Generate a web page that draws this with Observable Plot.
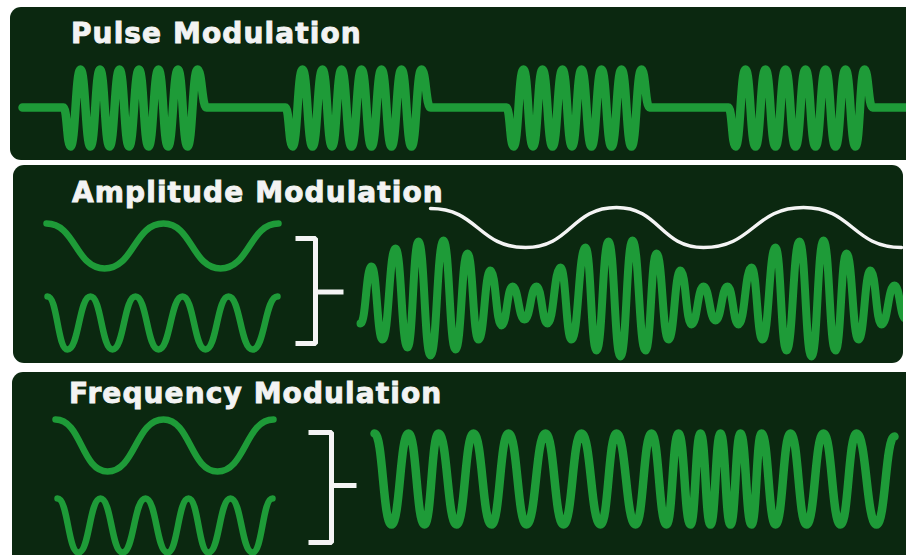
<!DOCTYPE html>
<html><head><meta charset="utf-8">
<script src="https://cdn.jsdelivr.net/npm/d3@7"></script>
<script src="https://cdn.jsdelivr.net/npm/@observablehq/plot@0.6"></script>
<style>
html,body{margin:0;padding:0;background:#fff;}
#root{position:relative;width:906px;height:555px;overflow:hidden;background:#fff;}
.panel{position:absolute;background:#0b2810;border-radius:11px;overflow:hidden;}
.panel svg{position:absolute;left:0;top:0;}
.title{position:absolute;font-family:"DejaVu Sans",sans-serif;font-weight:bold;font-size:28px;line-height:28px;color:#f3f3f3;letter-spacing:1.1px;white-space:nowrap;-webkit-text-stroke:0.9px #f3f3f3;}
</style></head><body><div id="root"></div>
<script>
// ---- titles ----
const titles = ["Pulse Modulation", "Amplitude Modulation", "Frequency Modulation"];

// ---- Pulse modulation: time / level ----
const pulseT = [22, 63, 70, 80, 90, 99.5, 109, 119, 128.5, 138.5, 148, 158, 167.5, 177.5, 187, 197, 206,
  285, 292, 302, 312, 322, 331.5, 341, 351, 361, 371, 381, 391, 401, 411, 421, 430,
  506, 513, 523, 532.5, 542, 552, 562, 571.5, 581, 591, 601, 611, 621, 631, 641, 649,
  728, 735, 745, 755, 765, 775, 785, 795, 805, 815, 825, 835, 845, 855, 864, 872, 915];
const pulseV = [107, 107, 146, 69, 146, 69, 146, 69, 146, 69, 146, 69, 146, 69, 146, 69, 107,
  107, 146, 69, 146, 69, 146, 69, 146, 69, 146, 69, 146, 69, 146, 69, 107,
  107, 146, 69, 146, 69, 146, 69, 146, 69, 146, 69, 146, 69, 146, 69, 107,
  107, 146, 69, 146, 69, 146, 69, 146, 69, 146, 69, 146, 69, 146, 69, 107, 107];

// ---- Amplitude modulation ----
const amModT = [46, 104, 163, 220, 278];
const amModV = [223, 268, 223, 268, 223];
const amCarT = [47, 67, 90, 112, 135, 158, 182, 205, 228, 252, 277];
const amCarV = [296, 349, 296, 349, 296, 349, 296, 349, 296, 349, 296];
const amBracketX = [295, 315, 315, 295];
const amBracketY = [238, 238, 343, 343];
const amStubX = [315, 343];
const amStubY = [291.5, 291.5];
const amOutT = [360, 371, 382, 395, 407, 418, 430, 443, 455, 467, 478, 490, 501, 512, 524, 536, 547, 560, 571, 585, 596, 608, 620, 632, 645, 656, 668, 680, 691, 703, 715, 727, 738, 751, 762, 775, 786, 799, 811, 823, 835, 846, 858, 870, 881, 894, 905];
const amOutV = [323, 266, 339, 248, 347, 241, 355, 240, 349, 253, 339, 270, 325, 286, 319, 286, 323, 267, 339, 247, 350, 241, 356, 240, 350, 253, 339, 270, 324, 286, 320, 286, 324, 267, 339, 247, 350, 241, 356, 240, 350, 253, 339, 270, 324, 285, 318];
const amEnvT = [430, 525, 616, 703, 803, 901];
const amEnvV = [208, 247, 207, 247, 207, 247];

// ---- Frequency modulation ----
const fmModT = [55, 107, 163, 217, 273];
const fmModV = [419, 471, 419, 471, 419];
const fmCarT = [57, 78, 100, 122, 145, 167, 188, 208, 230, 252, 272];
const fmCarV = [498, 552, 498, 552, 498, 552, 498, 552, 498, 552, 498];
const fmBracketX = [308, 331, 331, 308];
const fmBracketY = [432, 432, 542, 542];
const fmStubX = [331, 356];
const fmStubY = [485, 485];
const fmOutT = [374, 391, 408, 424, 438, 456, 473, 491, 508, 526, 545, 563, 581, 600, 616, 635, 651, 666, 678, 690, 700, 710, 720, 730, 740, 751, 761, 775, 790, 806, 823, 840, 856, 876, 894];
const fmOutV = [433, 524, 433, 524, 433, 524, 433, 524, 433, 524, 433, 524, 433, 524, 433, 524, 433, 524, 433, 524, 433, 524, 433, 524, 433, 524, 433, 524, 433, 524, 433, 524, 433, 524, 436];

// ---- layout & styles (not data) ----
const GREEN = "#1e9b38";
const WHITE = "#f4f4f4";
const panels = [
  {left: 10, top: 7, w: 910, h: 153, titleLeft: 61, titleTop: 13},
  {left: 13, top: 165, w: 890, h: 198, titleLeft: 59, titleTop: 14},
  {left: 12, top: 372, w: 910, h: 200, titleLeft: 57, titleTop: 8}
];

const wave = (T, V, sw, color = GREEN) =>
  Plot.line(T, {x: T, y: V, curve: "bump-x", stroke: color, strokeWidth: sw, strokeLinecap: "round", strokeLinejoin: "round"});
const bracket = (X, Y) =>
  Plot.line(X, {x: X, y: Y, stroke: WHITE, strokeWidth: 5, strokeLinecap: "butt", strokeLinejoin: "miter"});

const panelMarks = [
  [wave(pulseT, pulseV, 8.5)],
  [wave(amModT, amModV, 6.5), wave(amCarT, amCarV, 6.5), bracket(amBracketX, amBracketY), bracket(amStubX, amStubY),
   wave(amEnvT, amEnvV, 3.5, WHITE), wave(amOutT, amOutV, 8)],
  [wave(fmModT, fmModV, 6.5), wave(fmCarT, fmCarV, 6.5), bracket(fmBracketX, fmBracketY), bracket(fmStubX, fmStubY),
   wave(fmOutT, fmOutV, 8.5)]
];

const root = document.getElementById("root");
panels.forEach((p, i) => {
  const div = document.createElement("div");
  div.className = "panel";
  Object.assign(div.style, {left: p.left + "px", top: p.top + "px", width: p.w + "px", height: p.h + "px"});
  const svg = Plot.plot({
    width: p.w, height: p.h, margin: 0,
    x: {domain: [p.left, p.left + p.w], range: [0, p.w], axis: null},
    y: {domain: [p.top + p.h, p.top], range: [p.h, 0], axis: null},
    style: {background: "transparent", overflow: "hidden"},
    marks: panelMarks[i]
  });
  div.appendChild(svg);
  const t = document.createElement("div");
  t.className = "title";
  t.textContent = titles[i];
  Object.assign(t.style, {left: p.titleLeft + "px", top: p.titleTop + "px"});
  div.appendChild(t);
  root.appendChild(div);
});
</script></body></html>
